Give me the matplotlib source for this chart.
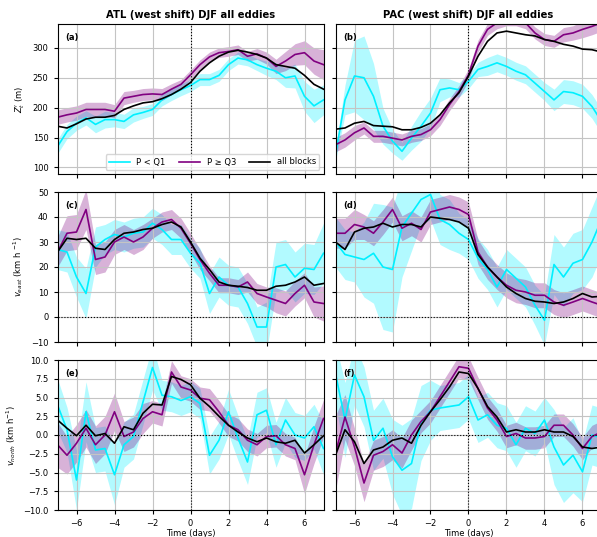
import numpy as np
import matplotlib
matplotlib.use('Agg')
import matplotlib.pyplot as plt

days = np.arange(-7, 7.01, 0.5)

# panel (a) ATL Z'
a_q1 = [135, 160, 174, 183, 172, 180, 180, 177, 188, 192, 197, 213, 222, 230, 237,
        247, 247, 254, 272, 283, 280, 272, 266, 261, 250, 253, 219, 203, 213]
a_q3 = [184, 188, 191, 197, 197, 197, 194, 216, 219, 222, 223, 222, 231, 239, 255,
        272, 285, 292, 294, 297, 286, 290, 283, 269, 278, 289, 292, 278, 272]
a_all = [169, 166, 173, 181, 184, 184, 187, 197, 203, 208, 210, 215, 222, 231, 242,
         261, 275, 286, 293, 296, 293, 289, 283, 272, 269, 266, 254, 239, 231]
a_q1_err = [12, 12, 12, 12, 14, 14, 12, 12, 12, 10, 10, 10, 10, 10, 10, 10, 10, 10, 10,
            10, 10, 10, 12, 14, 16, 20, 25, 28, 25]
a_q3_err = [12, 12, 12, 12, 12, 12, 11, 11, 10, 10, 10, 10, 9, 8, 8, 8, 8, 8, 8, 8, 8,
            9, 10, 12, 16, 18, 20, 22, 25]

# panel (b) PAC Z'
b_q1 = [121, 213, 253, 250, 219, 169, 144, 127, 149, 169, 191, 230, 233, 230, 244,
        264, 269, 275, 269, 261, 255, 241, 227, 213, 227, 225, 219, 202, 177]
b_q3 = [138, 146, 158, 166, 152, 152, 149, 146, 152, 155, 163, 180, 205, 227, 255,
        303, 331, 342, 347, 347, 342, 325, 314, 311, 322, 325, 331, 336, 342]
b_all = [164, 166, 174, 177, 170, 169, 168, 163, 163, 167, 174, 188, 208, 225, 253,
         286, 311, 325, 328, 325, 322, 320, 314, 311, 306, 303, 298, 297, 293]
b_q1_err = [10, 25, 60, 70, 55, 30, 20, 15, 20, 25, 25, 20, 15, 12, 12, 12, 15, 15, 15,
            15, 15, 15, 15, 18, 20, 20, 20, 20, 20]
b_q3_err = [12, 12, 12, 10, 10, 10, 10, 10, 10, 10, 10, 10, 10, 10, 10, 10, 10, 10, 10,
            10, 10, 10, 10, 10, 12, 12, 14, 14, 14]

# panel (c) ATL v_east
c_q1 = [27, 26, 16, 9.4, 28, 31, 33, 32, 33.5, 34, 37.5, 35, 31, 31, 25.5, 21.5, 9.4,
        16, 12.7, 12, 5.4, -4, -4, 20, 21, 16, 19.5, 19, 25.5]
c_q3 = [26, 33.5, 34, 43, 23, 24, 30, 32, 30, 32, 35.5, 38, 39, 35.5, 29.5, 23, 17.5,
        12.7, 12.7, 12, 14, 9.4, 8, 6.7, 5.4, 9.4, 12.7, 6, 5.4]
c_all = [26, 31.5, 31, 31.5, 27.5, 27, 31, 33.5, 34, 35, 35.5, 37, 38, 36, 30, 23.5,
         19, 14, 12.7, 12.3, 11.8, 10.7, 10.7, 12.3, 12.7, 14, 16, 12.7, 13.4]
c_q1_err = [8, 8, 8, 10, 8, 6, 6, 6, 6, 6, 6, 6, 6, 6, 6, 6, 8, 8, 8, 8, 8, 8, 10, 10,
            10, 10, 10, 10, 12]
c_q3_err = [6, 7, 7, 8, 6, 6, 5, 5, 5, 5, 4, 4, 4, 4, 4, 4, 3, 3, 3, 3, 4, 4, 4, 5, 5,
            5, 5, 6, 7]

# panel (d) PAC v_east
d_q1 = [30, 25, 24, 23, 25.5, 20, 19, 36, 41.5, 47, 49, 39, 37, 33.5, 31, 23.5, 19, 12,
        19, 15.5, 12, 4.7, -1.3, 21, 16, 21.5, 23, 30, 39]
d_q3 = [33.5, 33.5, 37, 36, 33.5, 38, 43, 35.5, 37.5, 35, 42, 43, 44, 43, 41, 26, 20,
        16, 12.7, 10.7, 10, 8.7, 8.7, 6, 4.7, 6, 7.4, 6, 4.7]
d_all = [30, 27, 34, 35.5, 36, 37.5, 36, 37, 37, 36, 40, 39.5, 39, 38, 35.5, 25, 20,
         16, 12, 9.4, 7.4, 6.3, 6, 5.4, 6, 7.4, 9.4, 8, 8.3]
d_q1_err = [10, 10, 10, 15, 20, 25, 25, 20, 15, 10, 10, 10, 10, 8, 8, 8, 8, 8, 8, 8, 8,
            8, 10, 12, 12, 12, 12, 14, 14]
d_q3_err = [6, 6, 6, 5, 5, 5, 5, 5, 5, 5, 5, 5, 5, 5, 5, 5, 5, 5, 5, 5, 5, 5, 5, 5, 5,
            5, 5, 5, 5]

# panel (e) ATL v_north
e_q1 = [4.0, 0.7, -6.0, 3.1, -2.0, -1.8, -5.3, -1.3, -0.2, 4.4, 9.0, 5.3, 5.1, 4.6, 5.1,
        4.2, -2.7, -0.7, 3.1, -0.4, -3.6, 2.7, 3.3, -1.3, 2.0, 0.0, -0.4, 1.1, -1.8]
e_q3 = [-1.3, -2.7, -1.1, 0.9, -1.3, 0.0, 3.1, -0.2, 0.4, 2.2, 3.1, 2.7, 8.4, 6.4, 6.0,
        4.9, 4.7, 3.1, 1.3, 0.7, -0.7, -1.3, -0.2, -0.1, -1.3, -1.8, -5.3, -1.3, 2.2]
e_all = [2.0, 0.9, -0.1, 1.3, -0.1, 0.2, -1.1, 1.1, 0.7, 2.9, 4.1, 4.0, 7.8, 7.4, 6.7,
         4.9, 3.8, 2.5, 1.3, 0.4, -0.4, -0.9, -0.4, -0.9, -1.1, -0.7, -2.4, -1.3, -0.1]
e_q1_err = [3.5, 3, 4, 4, 3, 3, 4, 3, 3, 3, 3, 2, 2, 2, 2, 2, 2.5, 2.5, 3, 3, 3, 3, 3, 3,
            3, 3, 3, 3, 3.5]
e_q3_err = [3, 2.5, 2.5, 2.5, 2.5, 2.5, 2.5, 2, 2, 2, 1.5, 1.5, 1.5, 1.5, 1.5, 1.5, 1.5,
            1.5, 1.5, 1.5, 1.5, 1.5, 1.5, 1.5, 1.5, 1.5, 2.5, 2.5, 2.5]

# panel (f) PAC v_north
f_q1 = [8.2, 2.0, 8.0, 5.1, -0.7, 0.9, -2.9, -4.7, -3.8, 1.6, 3.3, 3.6, 3.8, 4.0, 5.1,
        2.0, 2.7, 1.3, 0.9, -1.3, 0.9, 0.2, 2.0, -1.6, -4.0, -2.7, -4.9, 0.0, -0.4]
f_q3 = [-2.4, 2.4, -1.6, -6.4, -2.7, -2.2, -1.3, -2.4, 0.0, 1.8, 3.1, 5.1, 7.1, 9.1, 8.9,
        6.2, 3.6, 2.0, -0.2, 0.2, -0.4, -0.4, -0.2, 1.3, 1.3, 0.0, -1.8, -0.2, 0.4]
f_all = [-2.7, 0.7, -0.9, -3.8, -2.0, -1.6, -0.7, -0.4, -1.1, 1.3, 3.1, 4.7, 6.4, 8.4, 8.2,
         6.2, 3.8, 2.4, 0.4, 0.7, 0.4, 0.4, 0.7, 0.4, 0.4, -0.2, -1.6, -1.8, -1.6]
f_q1_err = [4, 5, 4, 4, 4, 4, 5, 6, 6, 5, 4, 3, 3, 3, 3, 3, 3, 3, 3, 3, 3, 3, 3, 5, 5, 5,
            4, 4, 4]
f_q3_err = [5, 3, 2.5, 2.5, 2, 2, 2, 2, 2, 1.5, 1.5, 1.5, 1.5, 1.5, 1.5, 1.5, 1.5, 1.5,
            1.5, 1.5, 1.5, 1.5, 1.5, 1.5, 1.5, 1.5, 1.5, 1.5, 1.5]

panels = [
    ('(a)', a_q1, a_q1_err, a_q3, a_q3_err, a_all),
    ('(b)', b_q1, b_q1_err, b_q3, b_q3_err, b_all),
    ('(c)', c_q1, c_q1_err, c_q3, c_q3_err, c_all),
    ('(d)', d_q1, d_q1_err, d_q3, d_q3_err, d_all),
    ('(e)', e_q1, e_q1_err, e_q3, e_q3_err, e_all),
    ('(f)', f_q1, f_q1_err, f_q3, f_q3_err, f_all),
]

ylabels = [r"$Z_t'$ (m)", r"$v_{east}$ (km h $^{-1}$)", r"$v_{north}$ (km h$^{-1}$)"]
ylims = [(89, 340), (-10, 50), (-10, 10)]
titles = ['ATL (west shift) DJF all eddies', 'PAC (west shift) DJF all eddies']

fig = plt.figure(figsize=(5.97, 5.37), dpi=100)
lefts = [57.5 / 597, 335.5 / 597]
width = 266 / 597
bottoms = [1 - 174 / 537, 1 - 342 / 537, 1 - 510 / 537]
height = 150 / 537

cyan = '#00f0ff'
purple = 'purple'

axes = []
for i, (lab, q1, q1e, q3, q3e, al) in enumerate(panels):
    row, col = i // 2, i % 2
    ax = fig.add_axes([lefts[col], bottoms[row], width, height])
    axes.append(ax)
    q1 = np.array(q1, float); q1e = np.array(q1e, float)
    q3 = np.array(q3, float); q3e = np.array(q3e, float)
    ax.fill_between(days, q1 - q1e, q1 + q1e, color=cyan, alpha=0.3, lw=0)
    ax.fill_between(days, q3 - q3e, q3 + q3e, color=purple, alpha=0.3, lw=0)
    ax.plot(days, q1, color=cyan, lw=1.2, label='P < Q1')
    ax.plot(days, q3, color=purple, lw=1.2, label='P ≥ Q3')
    ax.plot(days, al, color='black', lw=1.2, label='all blocks')
    ax.axvline(0, color='k', ls=':', lw=0.8)
    if row > 0:
        ax.axhline(0, color='k', ls=':', lw=0.8)
    ax.set_xlim(-7, 7)
    ax.set_ylim(*ylims[row])
    ax.set_xticks([-6, -4, -2, 0, 2, 4, 6])
    if row == 1:
        ax.set_yticks([-10, 0, 10, 20, 30, 40, 50])
    if row == 2:
        ax.set_yticks(np.arange(-10, 10.1, 2.5))
    ax.grid(True, color='#c4c4c4', lw=0.8)
    ax.tick_params(labelsize=6, length=3, width=0.8)
    ax.text(0.03, 0.91, lab, transform=ax.transAxes, fontsize=6, fontweight='bold',
            va='center')
    if col == 0:
        ax.set_ylabel(ylabels[row], fontsize=6)
    else:
        ax.tick_params(labelleft=False)
    if row < 2:
        ax.tick_params(labelbottom=False)
    else:
        ax.set_xlabel('Time (days)', fontsize=6, labelpad=1)
    if row == 0:
        ax.set_title(titles[col], fontsize=7.2, fontweight='bold', pad=4)

axes[0].legend(loc='lower right', ncol=3, fontsize=6, handlelength=2.5,
               columnspacing=1.6, borderpad=0.4, framealpha=0.8)

fig.savefig('out.png', dpi=100)
